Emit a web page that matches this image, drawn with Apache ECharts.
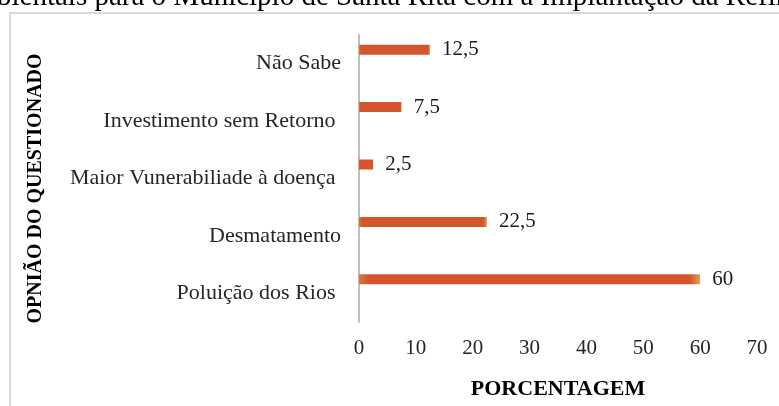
<!DOCTYPE html>
<html>
<head>
<meta charset="utf-8">
<script src="https://cdn.jsdelivr.net/npm/echarts@6/dist/echarts.min.js"></script>
<style>
  html, body { margin: 0; padding: 0; background: #fff; }
  #chart { width: 779px; height: 406px; }
</style>
</head>
<body>
<div id="chart"></div>
<script>
// categories, top to bottom (trailing spaces are in the source labels)
var categorias = ['Não Sabe', 'Investimento sem Retorno ', 'Maior Vunerabiliade à doença ', 'Desmatamento', 'Poluição dos Rios '];
var porcentagem = [12.5, 7.5, 2.5, 22.5, 60];
var eixoX = { min: 0, max: 70, interval: 10 };

var titulo = 'Ambientais para o Município de Santa Rita com a Implantação da Refinaria';
var fonte = 'Liberation Serif';

// push the title left so it shows cropped like the source picture
var ctx = document.createElement('canvas').getContext('2d');
ctx.font = '29px "' + fonte + '"';
var deslocamento = -ctx.measureText('Am').width - 3;

var myChart = echarts.init(document.getElementById('chart'));

var option = {
    animation: false,
    textStyle: { fontFamily: fonte },
    graphic: [
        {
            type: 'rect',
            shape: { x: 10, y: 13, width: 900, height: 500 },
            style: { fill: 'none', stroke: '#d9d9d9', lineWidth: 2 },
            silent: true
        },
        {
            type: 'text',
            x: deslocamento,
            y: -3,
            style: {
                text: titulo,
                font: '29px "' + fonte + '"',
                fill: '#000',
                verticalAlign: 'middle'
            },
            silent: true
        }
    ],
    grid: { left: 359, right: 22, top: 35, bottom: 84 },
    xAxis: {
        type: 'value',
        min: eixoX.min,
        max: eixoX.max,
        interval: eixoX.interval,
        axisLine: { show: false },
        axisTick: { show: false },
        splitLine: { show: false },
        axisLabel: { fontSize: 21, color: '#262626', margin: 16, fontFamily: fonte },
        name: 'PORCENTAGEM',
        nameLocation: 'middle',
        nameGap: 56,
        nameTextStyle: { fontSize: 22, fontWeight: 'bold', color: '#000', fontFamily: fonte }
    },
    yAxis: {
        type: 'category',
        inverse: true,
        data: categorias,
        axisLine: { show: true, lineStyle: { color: '#bfbfbf', width: 2 } },
        axisTick: { show: false },
        axisLabel: { fontSize: 22, color: '#262626', margin: 18, fontFamily: fonte },
        name: 'OPNIÃO DO QUESTIONADO',
        nameLocation: 'middle',
        nameGap: 313,
        nameRotate: 90,
        nameTextStyle: { fontSize: 20, fontWeight: 'bold', color: '#000', fontFamily: fonte, padding: [0, 20, 0, 0] }
    },
    series: [
        {
            type: 'bar',
            name: 'Porcentagem',
            data: porcentagem,
            barWidth: 10,
            barGap: '180%',
            itemStyle: {
                color: new echarts.graphic.LinearGradient(0, 0, 1, 0, [
                    { offset: 0, color: '#d7783f' },
                    { offset: 0.03, color: '#d4552b' },
                    { offset: 0.97, color: '#d4552b' },
                    { offset: 1, color: '#dca25f' }
                ])
            },
            label: {
                show: true,
                position: 'right',
                distance: 12,
                fontSize: 21,
                color: '#1a1a1a',
                fontFamily: fonte,
                formatter: function (p) { return String(p.value).replace('.', ','); }
            }
        },
        {
            // empty second series, as in the source workbook, keeps bars above band centre
            type: 'bar',
            name: 'vazio',
            data: [],
            barWidth: 10
        }
    ]
};

myChart.setOption(option);
</script>
</body>
</html>
